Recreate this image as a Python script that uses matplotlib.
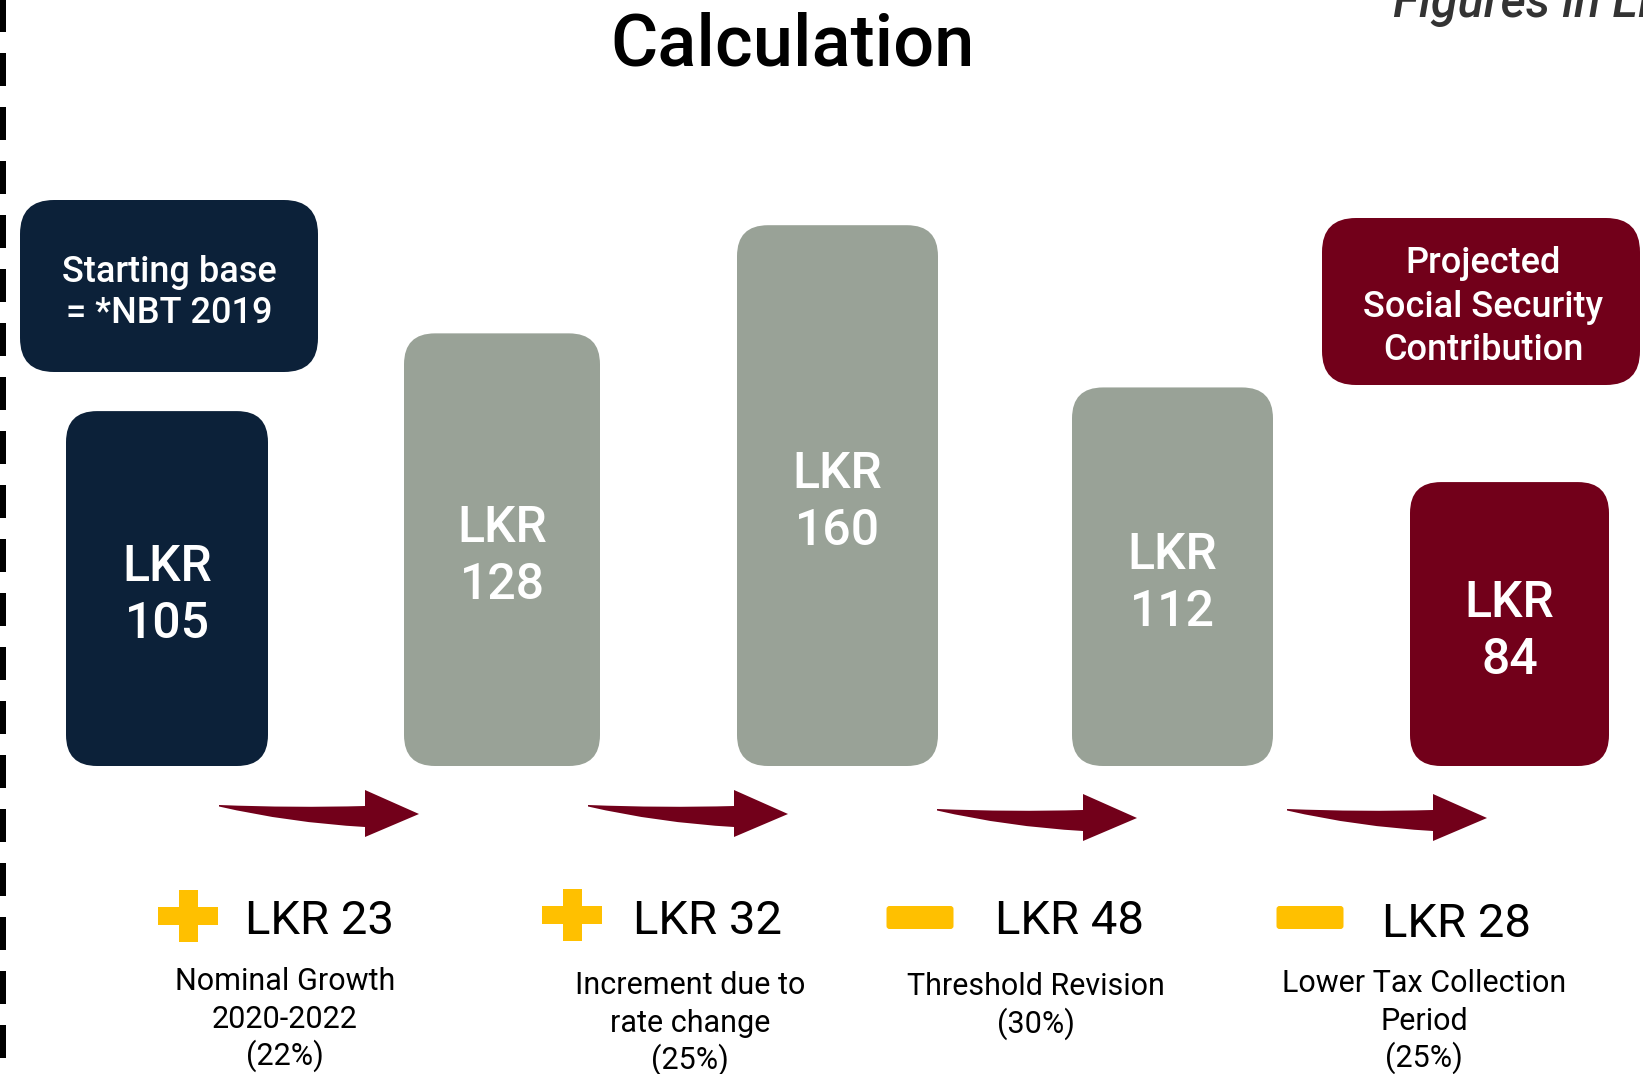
import matplotlib
matplotlib.use('Agg')
import matplotlib.pyplot as plt
from matplotlib.patches import FancyBboxPatch, PathPatch, Rectangle
from matplotlib.path import Path

plt.rcParams['font.family'] = ['Roboto', 'DejaVu Sans']

# donnees du graphique
totals = [105, 128, 160, 112, 84]
changes = [23, 32, -48, -28]
change_labels = ['Nominal Growth\n2020-2022\n(22%)',
                 'Increment due to\nrate change\n(25%)',
                 'Threshold Revision\n(30%)',
                 'Lower Tax Collection\nPeriod\n(25%)']
start_label = 'Starting base\n= *NBT 2019'
end_label = 'Projected\nSocial Security\nContribution'
title = 'Calculation'
note = 'Figures in LKR Bn'

# couleurs
navy = '#0C2139'
grey = '#99A297'
maroon = '#72001A'
yellow = '#FFC000'
bar_colors = [navy, grey, grey, grey, maroon]

# mise en page (pixels de l'image)
W, H = 1643, 1074
BASE = 766      # ligne de base des barres
PPU = 3.38      # pixels par unite
bar_left = [66, 404, 737, 1072, 1410]
bar_width = [202, 196, 201, 201, 199]

fig = plt.figure(figsize=(W / 100, H / 100), dpi=100)

# axe "mise en page" en pixels
lay = fig.add_axes([0, 0, 1, 1])
lay.set_xlim(0, W)
lay.set_ylim(H, 0)
lay.axis('off')

# axe des valeurs pour les barres
ax = fig.add_axes([0, 0, 1, 1], zorder=2)
ax.set_xlim(0, W)
ax.set_ylim(-(H - BASE) / PPU, BASE / PPU)
ax.axis('off')
ax.patch.set_alpha(0)

# barres arrondies
for x, w, v, c in zip(bar_left, bar_width, totals, bar_colors):
    ax.add_patch(FancyBboxPatch((x, 0), w, v, boxstyle='round,pad=0,rounding_size=31',
                                mutation_aspect=1 / PPU, fc=c, ec='none'))
    cx = x + w / 2
    ax.annotate('LKR', xy=(cx, v / 2), xytext=(0, 7.5 * 0.72), textcoords='offset points',
                ha='center', va='baseline', fontsize=36, fontweight='medium', color='white')
    ax.annotate(str(v), xy=(cx, v / 2), xytext=(0, -49.5 * 0.72), textcoords='offset points',
                ha='center', va='baseline', fontsize=36, fontweight='medium', color='white')

# ligne pointillee a gauche
lay.plot([3, 3], [-20, H + 20], color='black', lw=6 * 0.72, dashes=(5.5, 3.5),
         solid_capstyle='butt')

# titre et note
lay.text(793, 65, title, ha='center', va='baseline', fontsize=52, fontweight='medium')
lay.text(1393, 17, note, ha='left', va='baseline', fontsize=35, style='italic',
         fontweight='medium', color='#333333')

# boites d'etiquettes
lay.add_patch(FancyBboxPatch((20, 200), 298, 172, boxstyle='round,pad=0,rounding_size=34',
                             fc=navy, ec='none'))
for line, yb in zip(start_label.split('\n'), [282, 323]):
    lay.text(169, yb, line, ha='center', va='baseline', fontsize=26,
             fontweight='medium', color='white')

lay.add_patch(FancyBboxPatch((1322, 218), 318, 167, boxstyle='round,pad=0,rounding_size=34',
                             fc=maroon, ec='none'))
for line, yb in zip(end_label.split('\n'), [273, 317, 360]):
    lay.text(1483, yb, line, ha='center', va='baseline', fontsize=26,
             fontweight='medium', color='white')

# fleches courbes
arrow_tails = [(219, 805), (588, 805), (937, 809), (1287, 809)]
shape = [(0, 0), (75, 3), (146, 1), (146, -15), (200, 9), (146, 32), (146, 22),
         (70, 17.7), (0, 1.5), (0, 0)]
codes = [Path.MOVETO, Path.CURVE3, Path.CURVE3, Path.LINETO, Path.LINETO, Path.LINETO,
         Path.LINETO, Path.CURVE3, Path.CURVE3, Path.CLOSEPOLY]
for tx, ty in arrow_tails:
    verts = [(tx + dx, ty + dy) for dx, dy in shape]
    lay.add_patch(PathPatch(Path(verts, codes), fc=maroon, ec='none'))

# signes, montants et descriptions
sign_cx = [188, 572, 920, 1310]
sign_cy = [916, 914.5, 917.5, 917.5]
val_x = [245, 633, 995, 1382]
val_y = [934, 934, 934, 937]
desc_cx = [285, 690, 1036, 1424]
desc_y = [990, 994, 995, 992]
for i, ch in enumerate(changes):
    cx, cy = sign_cx[i], sign_cy[i]
    if ch > 0:
        lay.add_patch(Rectangle((cx - 30, cy - 9), 60, 18, fc=yellow, ec='none'))
        lay.add_patch(Rectangle((cx - 9.5, cy - 26), 19, 52, fc=yellow, ec='none'))
    else:
        lay.add_patch(FancyBboxPatch((cx - 33.5, cy - 11.5), 67, 23,
                                     boxstyle='round,pad=0,rounding_size=3',
                                     fc=yellow, ec='none'))
    lay.text(val_x[i], val_y[i], f'LKR {abs(ch)}', ha='left', va='baseline',
             fontsize=34, color='black')
    for k, line in enumerate(change_labels[i].split('\n')):
        lay.text(desc_cx[i], desc_y[i] + k * 37.5, line, ha='center', va='baseline',
                 fontsize=22, color='black')

fig.savefig('out.png', dpi=100)
